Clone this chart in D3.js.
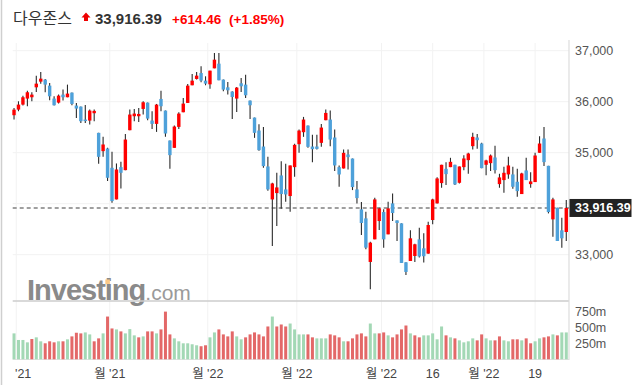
<!DOCTYPE html>
<html>
<head>
<meta charset="utf-8">
<script src="https://cdn.jsdelivr.net/npm/d3@7"></script>
<style>
  body { margin: 0; background: #fff; }
  svg text { font-family: "Liberation Sans", Arial, "Noto Sans CJK KR", sans-serif; }
</style>
</head>
<body>
<svg id="chart"></svg>
<script>
// daily candles, 29 Oct 2021 .. 28 Apr 2022
var opens = [35735,35845,35943,36061,36087,36282,36393,36433,36315,36061,35982,36139,36087,36178,35924,35904,35650,35630,35774,35389,
  35030,35082,34704,34084,34717,34658,35441,35715,35715,35858,35982,35630,35565,36054,35826,35239,35095,35506,35793,35976,
  36322,36446,36562,36413,36341,36654,36746,36433,36282,36198,36061,36361,36335,36022,35689,35434,35121,34730,34084,34208,
  34554,34280,34150,34717,35167,35402,35532,35121,35121,35193,35637,35650,35298,34717,34691,34965,34886,34280,33889,33712,
  32858,33301,33660,33836,33399,34006,33673,33615,32851,32877,32975,33301,33125,33021,33680,34006,34404,34684,34717,34763,
  34410,34717,34854,35128,35298,35180,34763,34795,34906,34384,34463,34574,34574,34430,34189,34652,34384,34424,34998,35278,
  34743,33693,33921,33478,33445];
var highs = [35878,36008,36119,36217,36185,36511,36583,36446,36367,36106,36139,36237,36335,36178,35976,35904,35937,35845,35845,35389,
  35311,35095,35017,34789,34821,35369,35845,35858,35878,36008,35982,35813,35956,36217,35826,35239,35532,35793,36074,36348,
  36543,36583,36697,36498,36609,36954,36954,36433,36387,36204,36289,36465,36530,36022,35689,35558,35506,34919,34410,34606,
  34834,34782,34750,35174,35454,35702,35532,35350,35350,35565,35845,35826,35454,34750,35063,35063,34886,34443,34032,33843,
  33256,34117,33921,33889,34038,34202,33673,33615,32851,33478,33217,33530,33419,33647,34097,34521,34763,34815,34900,34763,
  34730,34952,34998,35389,35369,35193,34861,34965,35135,34587,34724,34919,34724,34684,34606,34900,34619,34998,35324,35506,
  34743,34117,33921,33726,34071];
var lows = [35650,35813,35924,35911,36008,36191,36354,36185,36028,35924,35963,36022,36087,35930,35682,35584,35584,35552,35617,34782,
  34919,34443,34019,34084,34299,34658,35441,35617,35604,35748,35637,35467,35408,35813,35311,34684,35095,35467,35793,35976,
  36322,36433,36380,36322,36256,36654,36420,36204,36139,35663,35800,36191,36074,35663,35291,35037,34704,34254,33171,33562,
  33902,34038,33843,34528,34997,35311,35095,34815,35063,35115,35637,35128,34639,34332,34691,34671,34267,34006,33386,33106,
  32323,33301,33484,33138,33399,33660,33269,32838,32603,32877,32858,32943,32845,33021,33595,34006,34313,34365,34717,34365,
  34397,34658,34587,35063,35076,34697,34560,34639,34593,34313,34215,34489,34293,34136,34189,34463,34313,34424,34998,34737,
  33810,33354,33269,33138,33269];
var closes = [35845,35943,36087,36185,36139,36354,36452,36335,36106,35930,36119,36087,36159,35956,35865,35617,35620,35826,35820,34919,
  35161,34508,34052,34671,34606,35258,35748,35767,35760,35989,35669,35565,35943,35911,35376,34952,35513,35767,35963,36315,
  36413,36511,36413,36354,36609,36824,36420,36237,36224,36093,36276,36302,36126,35930,35389,35050,34737,34280,34397,34319,
  34189,34182,34750,35154,35434,35650,35115,35069,35075,35493,35780,35258,34750,34573,34997,34913,34326,34110,33622,33138,
  33236,34084,33908,33301,33908,33817,33621,32838,32662,33321,33204,32965,32970,33582,34084,34495,34763,34580,34821,34378,
  34730,34887,34984,35311,35245,34697,34848,34945,34658,34515,34606,34750,34332,34247,34593,34463,34437,34945,35180,34815,
  33836,34084,33269,33321,33916.39];
// volume, millions of shares
var volumes = [405,302,302,265,317,343,281,250,281,265,281,281,312,358,415,405,420,389,281,327,
  405,668,482,467,436,405,472,374,343,358,436,436,405,467,745,389,327,281,250,250,
  235,219,204,219,343,420,467,389,358,436,358,312,343,389,420,389,358,513,668,513,
  544,513,559,467,389,389,389,343,327,327,327,389,374,343,281,281,327,389,405,358,
  559,405,405,420,374,343,389,467,528,405,374,343,374,374,405,312,513,374,343,327,
  296,265,281,327,296,389,327,296,296,358,296,281,312,312,296,327,250,281,327,343,
  358,389,374,420,420];

var xTickIdx = [0.5, 21.5, 43.5, 63.5, 82.5, 94, 105.5, 117];
var xTickLabels = ["'21", "월 '21", "월 '22", "월 '22", "월 '22", "16", "월 '22", "19"];
var priceTicks = [33000, 34000, 35000, 36000, 37000];
var volTicks = [250, 500, 750];

var width = 635, height = 385;
var plotLeft = 12.7, plotRight = 569;
var lastPrice = closes[closes.length - 1];

var svg = d3.select("#chart")
  .attr("width", width)
  .attr("height", height);

var x = d3.scaleBand()
  .domain(d3.range(opens.length))
  .range([11.8, 568.5]);
var step = x.step();
function cx(i) { return x(Math.floor(i)) + step / 2 + (i % 1) * step; }

var y = d3.scaleLinear().domain([33000, 37000]).range([254.7, 50.7]);
var yv = d3.scaleLinear().domain([0, 750]).range([359.3, 311.3]);

// left frame line
svg.append("line")
  .attr("x1", 1.5).attr("x2", 1.5).attr("y1", 0).attr("y2", height)
  .style("stroke", "#cfcfcf").style("stroke-width", 1.5);

// title
var title = svg.append("text").attr("y", 24);
title.append("tspan").attr("x", 13).style("font-size", "16px").style("fill", "#333")
  .style("font-family", "'Noto Sans CJK KR', sans-serif").text("다우존스");
svg.append("path")
  .attr("d", "M86,12.5 L90.5,17.5 L88,17.5 L88,21 L84,21 L84,17.5 L81.5,17.5 Z")
  .style("fill", "#e00");
svg.append("text").attr("x", 95).attr("y", 24)
  .style("font-size", "15px").style("font-weight", "bold").style("fill", "#333")
  .text(d3.format(",.2f")(lastPrice));
svg.append("text").attr("x", 172).attr("y", 24)
  .style("font-size", "13.5px").style("font-weight", "bold").style("fill", "#f00")
  .text("+614.46");
svg.append("text").attr("x", 229).attr("y", 24)
  .style("font-size", "13.5px").style("font-weight", "bold").style("fill", "#f00")
  .text("(+1.85%)");

// grid
var grid = svg.append("g").attr("class", "grid");
grid.selectAll("line.h")
  .data(priceTicks)
  .enter().append("line")
  .attr("x1", plotLeft).attr("x2", plotRight)
  .attr("y1", function(d) { return y(d); }).attr("y2", function(d) { return y(d); })
  .style("stroke", "#f2f2f2").style("stroke-width", 1);
grid.selectAll("line.v")
  .data(xTickIdx)
  .enter().append("line")
  .attr("x1", function(d) { return cx(d); }).attr("x2", function(d) { return cx(d); })
  .attr("y1", 43).attr("y2", 359)
  .style("stroke", "#f2f2f2").style("stroke-width", 1);

// watermark
var wm = svg.append("text").attr("x", 27).attr("y", 300);
var wmWord = wm.append("tspan").style("font-size", "29px").style("font-weight", "bold").style("fill", "#8a8a8a")
  .style("letter-spacing", "-1px").text("Investing");
wm.append("tspan").style("font-size", "21px").style("fill", "#9a9a9a").text(".com");
// orange dot over the second "i"
var iBox = wmWord.node().getExtentOfChar(6);
svg.append("rect")
  .attr("x", iBox.x + 0.5).attr("y", 279.5)
  .attr("width", Math.max(4, iBox.width - 2.5)).attr("height", 4.5)
  .style("fill", "#fbc987");

// panel frame
svg.append("line")
  .attr("x1", plotLeft).attr("x2", plotRight).attr("y1", 301).attr("y2", 301)
  .style("stroke", "#cccccc").style("stroke-width", 1.5);
svg.append("line")
  .attr("x1", plotLeft).attr("x2", plotRight).attr("y1", 359.5).attr("y2", 359.5)
  .style("stroke", "#e2e2e2").style("stroke-width", 1);
svg.append("line")
  .attr("x1", plotRight).attr("x2", plotRight).attr("y1", 40).attr("y2", 360)
  .style("stroke", "#dddddd").style("stroke-width", 1.2);

// current price line
svg.append("line")
  .attr("x1", plotLeft).attr("x2", plotRight)
  .attr("y1", y(lastPrice)).attr("y2", y(lastPrice))
  .style("stroke", "#808080").style("stroke-width", 1.5)
  .style("stroke-dasharray", "4,3");

// candles
var candles = svg.append("g").attr("class", "candles")
  .selectAll("g")
  .data(opens)
  .enter().append("g");

candles.append("line")
  .attr("x1", function(d, i) { return cx(i); })
  .attr("x2", function(d, i) { return cx(i); })
  .attr("y1", function(d, i) { return y(highs[i]); })
  .attr("y2", function(d, i) { return y(lows[i]); })
  .style("stroke", "#2b2b2b").style("stroke-width", 1.1);

candles.append("rect")
  .attr("x", function(d, i) { return cx(i) - 1.7; })
  .attr("width", 3.4)
  .attr("y", function(d, i) { return y(Math.max(opens[i], closes[i])); })
  .attr("height", function(d, i) { return Math.max(1.5, Math.abs(y(opens[i]) - y(closes[i]))); })
  .style("fill", function(d, i) { return closes[i] >= opens[i] ? "#ff0000" : "#4ea1da"; });

// volume
svg.append("g").attr("class", "volume")
  .selectAll("rect")
  .data(volumes)
  .enter().append("rect")
  .attr("x", function(d, i) { return cx(i) - 1.5; })
  .attr("width", 3)
  .attr("y", function(d) { return yv(d); })
  .attr("height", function(d) { return yv(0) - yv(d); })
  .style("fill", function(d, i) {
    var prev = i > 0 ? closes[i - 1] : opens[i];
    return closes[i] >= prev ? "#a3d8b5" : "#e36868";
  });

// right axis labels
svg.append("g").selectAll("text")
  .data(priceTicks.filter(function(d) { return d !== 34000; }))
  .enter().append("text")
  .attr("x", 575).attr("y", function(d) { return y(d) + 4.5; })
  .style("font-size", "12.5px").style("fill", "#555")
  .text(d3.format(","));

svg.append("g").selectAll("text")
  .data(volTicks)
  .enter().append("text")
  .attr("x", 575).attr("y", function(d) { return yv(d) + 4.5; })
  .style("font-size", "12.5px").style("fill", "#555")
  .text(function(d) { return d + "m"; });

// price tag
svg.append("rect")
  .attr("x", 569.5).attr("y", y(lastPrice) - 9).attr("width", 62).attr("height", 18)
  .style("fill", "#222");
svg.append("text")
  .attr("x", 575).attr("y", y(lastPrice) + 4.5)
  .style("font-size", "12.5px").style("font-weight", "bold").style("fill", "#fff")
  .text(d3.format(",.2f")(lastPrice));

// x labels
svg.append("g").selectAll("text")
  .data(xTickIdx)
  .enter().append("text")
  .attr("x", function(d, i) { return i === 0 ? 15 : cx(d); })
  .attr("y", 378)
  .attr("text-anchor", function(d, i) { return i === 0 ? "start" : "middle"; })
  .style("font-size", "12.5px").style("fill", "#444")
  .text(function(d, i) { return xTickLabels[i]; });
</script>
</body>
</html>
